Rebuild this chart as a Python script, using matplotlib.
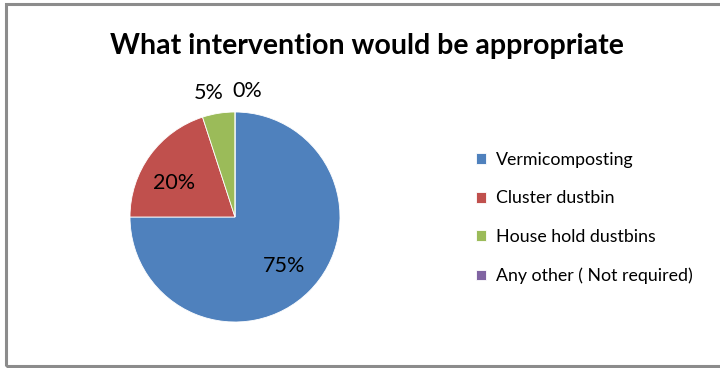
import numpy as np
import matplotlib
matplotlib.use("Agg")
import matplotlib.pyplot as plt
from matplotlib.patches import Rectangle

plt.rcParams['font.family'] = ['Lato', 'DejaVu Sans']

title = "What intervention would be appropriate"
categories = ["Vermicomposting", "Cluster dustbin", "House hold dustbins", "Any other ( Not required)"]
shares = [75, 20, 5, 0]
pct_labels = ["75%", "20%", "5%", "0%"]
colors = ["#4F81BD", "#C0504D", "#9BBB59", "#8064A2"]

W, H = 720, 368
fig = plt.figure(figsize=(W / 100, H / 100), dpi=100)
fig.patch.set_facecolor("white")

# outer chart frame (open on the right edge)
fig.patches.append(Rectangle((6 / W, 2 / H), 730 / W, 362 / H, transform=fig.transFigure,
                             fill=False, edgecolor="#8C8C8C", linewidth=2.2))

fig.text(367 / W, 1 - 46 / H, title, ha="center", va="center",
         fontsize=20.5, fontweight="bold", color="black")

cx, cy, r = 235, 217, 105
ax = fig.add_axes([(cx - r) / W, (H - cy - r) / H, 2 * r / W, 2 * r / H])
wedges, _ = ax.pie(shares, colors=colors, startangle=90, counterclock=False,
                   radius=1.0, wedgeprops=dict(linewidth=0.6, edgecolor="white"))
ax.set_xlim(-1, 1)
ax.set_ylim(-1, 1)
ax.set_aspect("equal")
ax.axis("off")

# percentage labels: inside for large slices, above the pie for tiny ones
dist = [0.66, 0.68, 1.2, 1.2]
offsets_pt = [(0, 0), (-2, -6), (-5, 0), (9, 0)]
for w, lab, d, off in zip(wedges, pct_labels, dist, offsets_pt):
    mid = np.deg2rad((w.theta1 + w.theta2) / 2)
    ax.annotate(lab, (d * np.cos(mid), d * np.sin(mid)), xytext=off,
                textcoords="offset points", ha="center", va="center",
                fontsize=15.5, color="black", annotation_clip=False)

leg = fig.legend(wedges, categories, loc="upper left",
                 bbox_to_anchor=(467 / W, 1 - 143 / H), frameon=False,
                 fontsize=12.8, handlelength=0.55, handleheight=0.55,
                 handletextpad=0.6, labelspacing=1.27, borderpad=0)

fig.savefig("out.png", dpi=100, facecolor="white")
